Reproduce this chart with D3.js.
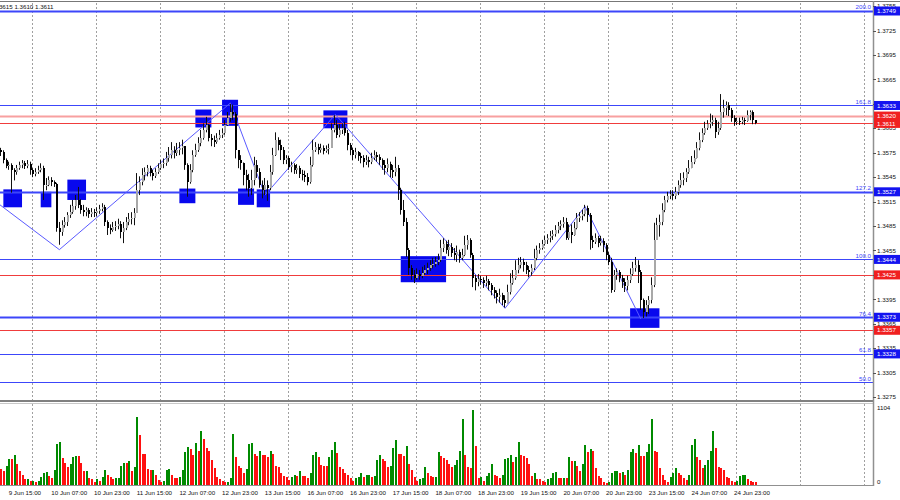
<!DOCTYPE html>
<html><head><meta charset="utf-8">
<script src="https://cdn.jsdelivr.net/npm/d3@7"></script>
<style>body{margin:0;background:#fff}svg{display:block;font-family:"Liberation Sans",Arial,sans-serif}</style>
</head><body><svg id="c" width="900" height="500"></svg>
<script>
// GBPUSD H1, bar 0 = 9 Jun 12:00
const opens=[1.3578,1.3576,1.3566,1.3559,1.3560,1.3554,1.3551,1.3556,1.3560,1.3562,
1.3559,1.3561,1.3554,1.3549,1.3551,1.3554,1.3556,1.3535,1.3535,1.3541,
1.3539,1.3537,1.3483,1.3478,1.3486,1.3490,1.3499,1.3502,1.3510,1.3517,
1.3511,1.3505,1.3502,1.3505,1.3500,1.3502,1.3501,1.3503,1.3506,1.3508,
1.3490,1.3483,1.3480,1.3484,1.3485,1.3487,1.3478,1.3483,1.3490,1.3494,
1.3495,1.3501,1.3529,1.3539,1.3548,1.3551,1.3556,1.3550,1.3546,1.3551,
1.3556,1.3561,1.3562,1.3568,1.3572,1.3578,1.3575,1.3578,1.3581,1.3583,
1.3560,1.3539,1.3554,1.3572,1.3578,1.3587,1.3593,1.3603,1.3609,1.3593,
1.3591,1.3588,1.3593,1.3597,1.3599,1.3609,1.3618,1.3625,1.3623,1.3578,
1.3566,1.3562,1.3548,1.3541,1.3532,1.3541,1.3560,1.3551,1.3535,1.3529,
1.3535,1.3532,1.3551,1.3572,1.3591,1.3584,1.3578,1.3566,1.3568,1.3557,
1.3560,1.3554,1.3556,1.3549,1.3548,1.3545,1.3539,1.3560,1.3578,1.3582,
1.3578,1.3581,1.3577,1.3580,1.3581,1.3603,1.3609,1.3597,1.3603,1.3605,
1.3599,1.3584,1.3578,1.3572,1.3576,1.3571,1.3568,1.3564,1.3566,1.3564,
1.3568,1.3572,1.3570,1.3566,1.3560,1.3556,1.3561,1.3554,1.3551,1.3556,
1.3529,1.3505,1.3490,1.3456,1.3433,1.3425,1.3421,1.3426,1.3424,1.3427,
1.3431,1.3433,1.3437,1.3438,1.3441,1.3443,1.3458,1.3463,1.3456,1.3459,
1.3452,1.3449,1.3453,1.3446,1.3449,1.3462,1.3468,1.3449,1.3421,1.3416,
1.3420,1.3419,1.3415,1.3417,1.3413,1.3406,1.3403,1.3398,1.3400,1.3394,
1.3391,1.3404,1.3415,1.3421,1.3431,1.3437,1.3441,1.3437,1.3431,1.3429,
1.3433,1.3446,1.3456,1.3458,1.3463,1.3468,1.3470,1.3473,1.3475,1.3480,
1.3485,1.3487,1.3490,1.3470,1.3478,1.3474,1.3483,1.3495,1.3497,1.3500,
1.3507,1.3499,1.3468,1.3465,1.3470,1.3464,1.3467,1.3462,1.3449,1.3441,
1.3406,1.3425,1.3429,1.3421,1.3416,1.3411,1.3419,1.3426,1.3433,1.3437,
1.3429,1.3394,1.3379,1.3388,1.3394,1.3413,1.3468,1.3486,1.3490,1.3505,
1.3517,1.3522,1.3524,1.3522,1.3527,1.3535,1.3541,1.3544,1.3551,1.3556,
1.3564,1.3568,1.3581,1.3591,1.3599,1.3605,1.3610,1.3613,1.3615,1.3600,
1.3605,1.3625,1.3630,1.3634,1.3627,1.3618,1.3613,1.3614,1.3613,1.3615,
1.3614,1.3621,1.3625,1.3615];
const highs=[1.3581,1.3578,1.3568,1.3564,1.3562,1.3556,1.3560,1.3564,1.3566,1.3565,
1.3566,1.3564,1.3556,1.3556,1.3559,1.3562,1.3559,1.3544,1.3546,1.3545,
1.3541,1.3538,1.3490,1.3492,1.3496,1.3502,1.3511,1.3517,1.3523,1.3533,
1.3518,1.3511,1.3508,1.3507,1.3507,1.3506,1.3508,1.3511,1.3513,1.3511,
1.3492,1.3487,1.3490,1.3491,1.3494,1.3491,1.3490,1.3496,1.3501,1.3502,
1.3507,1.3550,1.3546,1.3556,1.3557,1.3560,1.3559,1.3554,1.3556,1.3562,
1.3566,1.3568,1.3576,1.3582,1.3588,1.3583,1.3587,1.3588,1.3591,1.3583,
1.3562,1.3561,1.3578,1.3586,1.3594,1.3603,1.3611,1.3619,1.3610,1.3598,
1.3596,1.3599,1.3603,1.3605,1.3615,1.3625,1.3635,1.3634,1.3625,1.3578,
1.3572,1.3563,1.3554,1.3549,1.3554,1.3570,1.3566,1.3556,1.3541,1.3544,
1.3541,1.3560,1.3581,1.3600,1.3594,1.3591,1.3582,1.3572,1.3571,1.3564,
1.3562,1.3561,1.3559,1.3554,1.3553,1.3550,1.3570,1.3591,1.3588,1.3586,
1.3586,1.3584,1.3584,1.3586,1.3611,1.3621,1.3615,1.3610,1.3611,1.3613,
1.3603,1.3587,1.3581,1.3581,1.3577,1.3575,1.3572,1.3572,1.3570,1.3575,
1.3578,1.3576,1.3573,1.3568,1.3566,1.3568,1.3564,1.3560,1.3570,1.3560,
1.3532,1.3517,1.3495,1.3458,1.3437,1.3431,1.3433,1.3431,1.3435,1.3437,
1.3440,1.3443,1.3446,1.3447,1.3451,1.3468,1.3470,1.3467,1.3468,1.3464,
1.3458,1.3461,1.3456,1.3457,1.3473,1.3474,1.3470,1.3452,1.3425,1.3426,
1.3424,1.3422,1.3424,1.3420,1.3415,1.3410,1.3406,1.3408,1.3403,1.3400,
1.3413,1.3427,1.3431,1.3443,1.3446,1.3447,1.3445,1.3441,1.3436,1.3438,
1.3457,1.3461,1.3464,1.3468,1.3473,1.3475,1.3479,1.3480,1.3486,1.3490,
1.3492,1.3496,1.3495,1.3487,1.3487,1.3490,1.3501,1.3502,1.3505,1.3511,
1.3510,1.3501,1.3473,1.3476,1.3473,1.3473,1.3470,1.3464,1.3453,1.3446,
1.3431,1.3433,1.3431,1.3425,1.3421,1.3424,1.3433,1.3441,1.3447,1.3443,
1.3431,1.3396,1.3394,1.3399,1.3422,1.3489,1.3495,1.3499,1.3513,1.3522,
1.3527,1.3529,1.3529,1.3533,1.3541,1.3550,1.3551,1.3556,1.3566,1.3571,
1.3578,1.3588,1.3600,1.3605,1.3613,1.3615,1.3623,1.3621,1.3618,1.3613,
1.3647,1.3640,1.3638,1.3637,1.3630,1.3621,1.3618,1.3618,1.3619,1.3618,
1.3627,1.3627,1.3627,1.3615];
const lows=[1.3571,1.3562,1.3556,1.3554,1.3526,1.3541,1.3548,1.3554,1.3556,1.3555,
1.3556,1.3548,1.3545,1.3546,1.3549,1.3551,1.3517,1.3529,1.3534,1.3534,
1.3533,1.3478,1.3462,1.3473,1.3483,1.3485,1.3495,1.3500,1.3505,1.3507,
1.3500,1.3497,1.3497,1.3495,1.3496,1.3496,1.3497,1.3500,1.3503,1.3485,
1.3474,1.3475,1.3478,1.3479,1.3481,1.3470,1.3464,1.3480,1.3486,1.3487,
1.3486,1.3501,1.3523,1.3535,1.3541,1.3546,1.3546,1.3541,1.3544,1.3549,
1.3554,1.3556,1.3559,1.3564,1.3568,1.3568,1.3571,1.3572,1.3573,1.3554,
1.3521,1.3537,1.3551,1.3570,1.3576,1.3583,1.3591,1.3600,1.3589,1.3583,
1.3582,1.3586,1.3591,1.3593,1.3597,1.3608,1.3613,1.3615,1.3568,1.3556,
1.3554,1.3535,1.3529,1.3521,1.3523,1.3535,1.3544,1.3532,1.3519,1.3523,
1.3516,1.3529,1.3548,1.3571,1.3578,1.3566,1.3561,1.3561,1.3554,1.3551,
1.3549,1.3549,1.3544,1.3541,1.3539,1.3535,1.3537,1.3558,1.3576,1.3573,
1.3575,1.3573,1.3575,1.3573,1.3581,1.3600,1.3593,1.3594,1.3598,1.3596,
1.3578,1.3572,1.3566,1.3568,1.3565,1.3562,1.3557,1.3560,1.3557,1.3561,
1.3566,1.3564,1.3560,1.3554,1.3548,1.3551,1.3545,1.3544,1.3546,1.3517,
1.3499,1.3485,1.3447,1.3425,1.3419,1.3415,1.3419,1.3419,1.3421,1.3425,
1.3426,1.3430,1.3433,1.3435,1.3437,1.3441,1.3453,1.3451,1.3448,1.3447,
1.3443,1.3441,1.3440,1.3443,1.3448,1.3456,1.3446,1.3410,1.3406,1.3411,
1.3413,1.3409,1.3411,1.3406,1.3400,1.3396,1.3390,1.3391,1.3388,1.3385,
1.3390,1.3401,1.3413,1.3419,1.3427,1.3433,1.3429,1.3426,1.3422,1.3424,
1.3431,1.3443,1.3451,1.3456,1.3461,1.3463,1.3465,1.3468,1.3472,1.3476,
1.3480,1.3483,1.3468,1.3468,1.3464,1.3473,1.3481,1.3490,1.3492,1.3497,
1.3490,1.3456,1.3458,1.3463,1.3459,1.3461,1.3453,1.3443,1.3437,1.3403,
1.3404,1.3419,1.3416,1.3409,1.3404,1.3406,1.3415,1.3424,1.3429,1.3415,
1.3382,1.3372,1.3374,1.3377,1.3390,1.3410,1.3468,1.3472,1.3486,1.3502,
1.3514,1.3518,1.3517,1.3518,1.3523,1.3532,1.3535,1.3539,1.3549,1.3556,
1.3561,1.3568,1.3578,1.3588,1.3597,1.3603,1.3605,1.3608,1.3593,1.3597,
1.3603,1.3618,1.3621,1.3620,1.3613,1.3608,1.3609,1.3609,1.3610,1.3609,
1.3613,1.3615,1.3610,1.3610];
const closes=[1.3576,1.3566,1.3559,1.3560,1.3554,1.3551,1.3556,1.3560,1.3562,1.3559,
1.3561,1.3554,1.3549,1.3551,1.3554,1.3556,1.3535,1.3535,1.3541,1.3539,
1.3537,1.3483,1.3478,1.3486,1.3490,1.3499,1.3502,1.3510,1.3517,1.3511,
1.3505,1.3502,1.3505,1.3500,1.3502,1.3501,1.3503,1.3506,1.3508,1.3490,
1.3483,1.3480,1.3484,1.3485,1.3487,1.3478,1.3483,1.3490,1.3494,1.3495,
1.3501,1.3529,1.3539,1.3548,1.3551,1.3556,1.3550,1.3546,1.3551,1.3556,
1.3561,1.3562,1.3568,1.3572,1.3578,1.3575,1.3578,1.3581,1.3583,1.3560,
1.3539,1.3554,1.3572,1.3578,1.3587,1.3593,1.3603,1.3609,1.3593,1.3591,
1.3588,1.3593,1.3597,1.3599,1.3609,1.3618,1.3625,1.3623,1.3578,1.3566,
1.3562,1.3548,1.3541,1.3532,1.3541,1.3560,1.3551,1.3535,1.3529,1.3535,
1.3532,1.3551,1.3572,1.3591,1.3584,1.3578,1.3566,1.3568,1.3557,1.3560,
1.3554,1.3556,1.3549,1.3548,1.3545,1.3539,1.3560,1.3578,1.3582,1.3578,
1.3581,1.3577,1.3580,1.3581,1.3603,1.3609,1.3597,1.3603,1.3605,1.3599,
1.3584,1.3578,1.3572,1.3576,1.3571,1.3568,1.3564,1.3566,1.3564,1.3568,
1.3572,1.3570,1.3566,1.3560,1.3556,1.3561,1.3554,1.3551,1.3556,1.3529,
1.3505,1.3490,1.3456,1.3433,1.3425,1.3421,1.3426,1.3424,1.3427,1.3431,
1.3433,1.3437,1.3438,1.3441,1.3443,1.3458,1.3463,1.3456,1.3459,1.3452,
1.3449,1.3453,1.3446,1.3449,1.3462,1.3468,1.3449,1.3421,1.3416,1.3420,
1.3419,1.3415,1.3417,1.3413,1.3406,1.3403,1.3398,1.3400,1.3394,1.3391,
1.3404,1.3415,1.3421,1.3431,1.3437,1.3441,1.3437,1.3431,1.3429,1.3433,
1.3446,1.3456,1.3458,1.3463,1.3468,1.3470,1.3473,1.3475,1.3480,1.3485,
1.3487,1.3490,1.3470,1.3478,1.3474,1.3483,1.3495,1.3497,1.3500,1.3507,
1.3499,1.3468,1.3465,1.3470,1.3464,1.3467,1.3462,1.3449,1.3441,1.3406,
1.3425,1.3429,1.3421,1.3416,1.3411,1.3419,1.3426,1.3433,1.3437,1.3429,
1.3394,1.3379,1.3388,1.3394,1.3413,1.3468,1.3486,1.3490,1.3505,1.3517,
1.3522,1.3524,1.3522,1.3527,1.3535,1.3541,1.3544,1.3551,1.3556,1.3564,
1.3568,1.3581,1.3591,1.3599,1.3605,1.3610,1.3613,1.3615,1.3600,1.3605,
1.3625,1.3630,1.3634,1.3627,1.3618,1.3613,1.3614,1.3613,1.3615,1.3614,
1.3621,1.3625,1.3615,1.3611];
const volumes=[230,200,275,375,375,430,300,200,145,86,
90,57,60,40,57,115,172,180,130,95,
215,590,620,390,315,260,300,400,415,410,
315,200,205,95,86,50,86,57,115,215,
145,115,86,95,100,275,320,315,345,200,
260,975,717,445,445,230,215,220,145,72,
40,57,215,225,145,100,95,115,215,480,
545,520,430,605,490,775,660,530,490,360,
245,115,86,57,40,45,95,730,400,275,
240,172,230,590,600,445,410,490,430,430,
400,490,445,275,260,172,130,115,72,115,
145,130,200,130,130,95,172,430,475,400,
290,275,275,400,500,620,460,260,230,172,
145,95,57,95,115,172,115,145,150,115,
130,360,430,375,345,260,275,530,645,445,
445,410,560,300,215,115,57,86,95,260,
172,130,115,120,475,410,390,360,300,260,
290,360,490,945,430,260,240,1075,560,100,
110,57,130,172,300,145,130,95,145,375,
390,430,330,400,615,430,415,390,300,130,
172,86,86,57,40,86,95,172,180,100,
95,100,95,400,345,350,275,200,300,575,
475,520,490,245,130,95,50,25,40,172,
200,205,172,180,145,215,475,520,460,575,
410,410,475,590,945,490,480,240,145,72,
50,115,172,245,172,145,100,72,145,575,
665,400,360,245,290,360,490,775,530,260,
245,215,115,95,57,50,57,130,145,150,
86,57,50,45];
const symbolName="GBPUSD,H1";
const timeTickBars=[3,19,35,51,67,83,99,115,131,147,163,179,195,211,227,243,259,275];
const timeTickLabels=["9 Jun 15:00","10 Jun 07:00","10 Jun 23:00","11 Jun 15:00","12 Jun 07:00","12 Jun 23:00","13 Jun 15:00","16 Jun 07:00","16 Jun 23:00","17 Jun 15:00","18 Jun 07:00","18 Jun 23:00","19 Jun 15:00","20 Jun 07:00","20 Jun 23:00","23 Jun 15:00","24 Jun 07:00","24 Jun 23:00"];
const dayStartBars=[12,36,60,84,108,132,156,180,204,228,252,276,300,324];
const priceTicks=[1.3275,1.3305,1.3335,1.3365,1.3395,1.3425,1.3455,1.3485,1.3515,1.3545,1.3575,1.3605,1.3635,1.3665,1.3695,1.3725,1.3755];
const fibNames=["200.0","161.8","127.2","100.0","76.4","61.8","50.0"];
const fibPrices=[1.3749,1.3633,1.3527,1.3444,1.3373,1.3328,1.3293];
const redLinePrices=[1.3620,1.3611,1.3425,1.3357];
const boxStartBars=[1,15,25,67,73,83,89,96,121,150,236];
const boxEndBars=[8,19,32,73,79,89,95,101,130,167,247];
const boxTopPrices=[1.3530,1.3527,1.3542,1.3531,1.3628,1.3640,1.3531,1.3530,1.3627,1.3448,1.3384];
const boxBottomPrices=[1.3508,1.3508,1.3517,1.3513,1.3606,1.3608,1.3511,1.3508,1.3605,1.3416,1.3360];
const zigzagBars=[-10,22,86.1,99.1,125.5,189.1,219.1,240];
const zigzagPrices=[1.3535,1.3456,1.3636,1.3523,1.3622,1.3384,1.3509,1.3371];
const volumeMax=1104;

const svg=d3.select("#c");
const axisX=873;
const x=d3.scaleLinear().domain([-0.26,337.2]).range([0,900]);
const y=d3.scaleLinear().domain([1.327141,1.37625]).range([400,0]);
const yv=d3.scaleLinear().domain([0,volumeMax]).range([485,408]);
const f4=d3.format(".4f");
const BLUE="#3c46fa", RED="#f03c3c";

const defs=svg.append("defs");
defs.append("clipPath").attr("id","cp").append("rect").attr("x",0).attr("y",2).attr("width",axisX).attr("height",398);
defs.append("clipPath").attr("id","cv").append("rect").attr("x",0).attr("y",404).attr("width",axisX).attr("height",82);

svg.append("rect").attr("width",900).attr("height",500).attr("fill","#fff");

// grid
const g=svg.append("g").attr("stroke","#a0a0a0").attr("stroke-dasharray","2,2");
dayStartBars.forEach(b=>{
  const xx=Math.floor(x(b))+0.5;
  if(xx>axisX) return;
  g.append("line").attr("x1",xx).attr("x2",xx).attr("y1",3).attr("y2",400);
  g.append("line").attr("x1",xx).attr("x2",xx).attr("y1",404).attr("y2",486);
});

const pg=svg.append("g").attr("clip-path","url(#cp)");
// rectangles
boxStartBars.forEach((b,k)=>{
  const x0=x(b), x1=x(boxEndBars[k]);
  pg.append("rect").attr("x",x0).attr("width",x1-x0)
    .attr("y",y(boxTopPrices[k])).attr("height",y(boxBottomPrices[k])-y(boxTopPrices[k]))
    .attr("fill","#0808ee");
});
// fib lines
const thick=new Set(["200.0","127.2","76.4"]);
fibPrices.forEach((p,k)=>{
  pg.append("line").attr("x1",0).attr("x2",axisX).attr("y1",Math.round(y(p))+0.5).attr("y2",Math.round(y(p))+0.5)
    .attr("stroke",BLUE).attr("stroke-width",thick.has(fibNames[k])?2:1);
});
// red lines
redLinePrices.forEach((p,k)=>{
  pg.append("line").attr("x1",0).attr("x2",axisX).attr("y1",Math.round(y(p))+0.5).attr("y2",Math.round(y(p))+0.5)
    .attr("stroke",k===0?"#f8a0a0":RED).attr("stroke-width",k===0?2:1);
});
// zigzag
const zz=zigzagBars.map((b,k)=>({b,p:zigzagPrices[k]}));
pg.append("path").datum(zz).attr("d",d3.line().x(d=>x(d.b)).y(d=>y(d.p)))
  .attr("fill","none").attr("stroke","#5a5aff").attr("stroke-width",1);

// candles
const bars=closes.map((c,i)=>({i,o:opens[i],h:highs[i],l:lows[i],c,v:volumes[i]}));
const cg=pg.append("g");
bars.forEach(d=>{
  const xc=Math.floor(x(d.i));
  cg.append("line").attr("x1",xc+0.5).attr("x2",xc+0.5).attr("y1",y(d.h)).attr("y2",y(d.l))
    .attr("stroke","#111").attr("stroke-width",1);
  const top=y(Math.max(d.o,d.c)), bot=y(Math.min(d.o,d.c));
  cg.append("rect").attr("x",xc).attr("width",2).attr("y",top).attr("height",Math.max(1,bot-top))
    .attr("fill",d.c>=d.o?"#a8a8a8":"#000").attr("shape-rendering","crispEdges");
});

// volumes
const vg=svg.append("g").attr("clip-path","url(#cv)");
bars.forEach((d,i)=>{
  const up=i>0 && d.v>bars[i-1].v;
  const xc=Math.floor(x(d.i));
  vg.append("rect").attr("x",xc).attr("width",2).attr("y",yv(d.v)).attr("height",yv(0)-yv(d.v))
    .attr("fill",up?"#008a00":"#ff1010").attr("shape-rendering","crispEdges");
});

// frame lines
svg.append("line").attr("x1",0).attr("x2",900).attr("y1",1.5).attr("y2",1.5).attr("stroke","#777");
svg.append("line").attr("x1",0).attr("x2",axisX).attr("y1",401).attr("y2",401).attr("stroke","#808080").attr("stroke-width",2);
svg.append("line").attr("x1",0).attr("x2",axisX).attr("y1",403.5).attr("y2",403.5).attr("stroke","#c8c8c8");
svg.append("line").attr("x1",0).attr("x2",axisX).attr("y1",485.5).attr("y2",485.5).attr("stroke","#909090");
svg.append("line").attr("x1",axisX+0.5).attr("x2",axisX+0.5).attr("y1",1).attr("y2",486).attr("stroke","#909090").attr("stroke-width",1.5);

// price axis
const FS=6.2;
const ag=svg.append("g").attr("font-size",FS);
priceTicks.forEach(p=>{
  ag.append("line").attr("x1",axisX).attr("x2",axisX+3).attr("y1",Math.round(y(p))+0.5).attr("y2",Math.round(y(p))+0.5).attr("stroke","#555");
  ag.append("text").attr("x",axisX+4).attr("y",y(p)+2.2).attr("fill","#111").text(f4(p));
});
// fib labels
fibPrices.forEach((p,k)=>{
  ag.append("text").attr("x",axisX-2).attr("y",y(p)-1.5).attr("text-anchor","end").attr("fill",BLUE).text(fibNames[k]);
});
// level boxes
function box(p,col){
  ag.append("rect").attr("x",axisX+1).attr("y",y(p)-4.5).attr("width",27).attr("height",9).attr("fill",col);
  ag.append("text").attr("x",axisX+4).attr("y",y(p)+2.2).attr("fill","#fff").text(f4(p));
}
fibPrices.forEach((p,k)=>{ if(fibNames[k]!=="50.0") box(p,"#1414f0"); });
redLinePrices.forEach(p=>box(p,"#f02020"));
// volume axis
ag.append("text").attr("x",axisX+4).attr("y",yv(volumeMax)+2.2).attr("fill","#111").text(volumeMax);
ag.append("text").attr("x",axisX+4).attr("y",yv(0)-1).attr("fill","#111").text("0");

// time axis
const tg=svg.append("g").attr("font-size",FS).attr("fill","#111");
timeTickBars.forEach((b,k)=>{
  tg.append("text").attr("x",x(b)).attr("y",495).text(timeTickLabels[k]);
});

// header
const L=bars[bars.length-1];
svg.append("text").attr("x",53.5).attr("y",8.5).attr("text-anchor","end").attr("font-size",FS).attr("fill","#111")
  .text(`${symbolName}  ${f4(L.o)} ${f4(L.h)} ${f4(L.l)} ${f4(L.c)}`);
</script></body></html>
